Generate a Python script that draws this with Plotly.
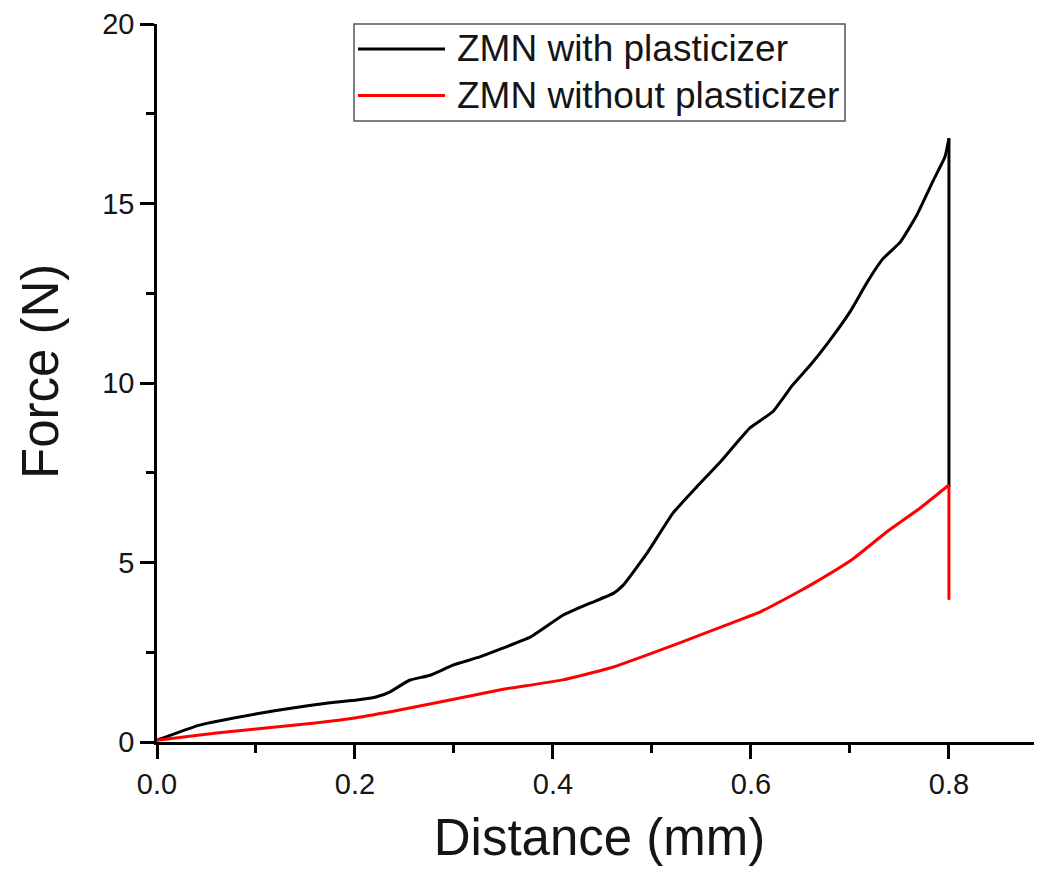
import plotly.graph_objects as go

# Data
dist_with = [0.0, 0.043, 0.104, 0.137, 0.171, 0.202, 0.222, 0.235, 0.255, 0.276, 0.299,
             0.326, 0.346, 0.377, 0.41, 0.437, 0.461, 0.471, 0.495, 0.521, 0.545, 0.569,
             0.599, 0.622, 0.642, 0.660, 0.677, 0.700, 0.717, 0.733, 0.751, 0.768, 0.784,
             0.796, 0.800, 0.800]
force_with = [0.05, 0.47, 0.80, 0.95, 1.08, 1.17, 1.26, 1.39, 1.72, 1.86, 2.14,
              2.37, 2.58, 2.92, 3.53, 3.86, 4.14, 4.37, 5.26, 6.37, 7.10, 7.80,
              8.75, 9.20, 9.94, 10.50, 11.09, 11.98, 12.79, 13.45, 13.93, 14.70, 15.63,
              16.30, 16.82, 7.10]

dist_without = [0.0, 0.06, 0.16, 0.20, 0.245, 0.296, 0.346, 0.41, 0.461, 0.528, 0.596,
                0.609, 0.649, 0.660, 0.703, 0.737, 0.771, 0.800, 0.800]
force_without = [0.05, 0.25, 0.53, 0.67, 0.89, 1.17, 1.45, 1.73, 2.09, 2.76, 3.48,
                 3.62, 4.20, 4.37, 5.10, 5.85, 6.52, 7.16, 3.96]

names = ["ZMN with plasticizer", "ZMN without plasticizer"]
colors = ["#000000", "#ff0000"]
x_title = "Distance (mm)"
y_title = "Force (N)"

FONT = "Arial, Liberation Sans, sans-serif"
TXT = "#151515"

fig = go.Figure()
series = [(dist_with, force_with), (dist_without, force_without)]
for (xs, ys), name, col in zip(series, names, colors):
    # smooth rising curve
    fig.add_trace(go.Scatter(x=xs[:-1], y=ys[:-1], mode="lines", name=name,
                             line=dict(color=col, width=3, shape="spline", smoothing=0.4),
                             showlegend=False))
    # sudden drop at the end of the test
    fig.add_trace(go.Scatter(x=xs[-2:], y=ys[-2:], mode="lines", name=name,
                             line=dict(color=col, width=3), showlegend=False))

axis_common = dict(
    showgrid=False, zeroline=False, showline=True, linecolor="black", linewidth=2.5,
    ticks="outside", ticklen=14, tickwidth=2.5, tickcolor="black",
    tickfont=dict(family=FONT, size=29, color=TXT),
    mirror=False,
)

# page body has an 8px margin, so the figure is 8px smaller and margins shifted
fig.update_layout(
    width=1034, height=865,
    margin=dict(l=149, r=0, t=16, b=131),
    paper_bgcolor="white", plot_bgcolor="white",
    font=dict(family=FONT, color=TXT),
    xaxis=dict(range=[0, 0.894], tickmode="linear", tick0=0, dtick=0.2, tickformat=".1f",
               minor=dict(ticks="outside", ticklen=8, tickwidth=2.5, tickcolor="black",
                          dtick=0.1, tick0=0, showgrid=False),
               title=dict(text=x_title, font=dict(family=FONT, size=51, color=TXT),
                          standoff=21),
               **axis_common),
    yaxis=dict(range=[0, 20], tickmode="linear", tick0=0, dtick=5,
               minor=dict(ticks="outside", ticklen=8, tickwidth=2.5, tickcolor="black",
                          dtick=2.5, tick0=0, showgrid=False),
               **axis_common),
    showlegend=False,
)

# Y axis title placed slightly above the axis centre, as in the reference
fig.add_annotation(xref="paper", yref="paper", x=-0.1322, y=0.5153, text=y_title,
                   textangle=-90, showarrow=False, xanchor="center", yanchor="middle",
                   font=dict(family=FONT, size=51, color=TXT))

# Legend box drawn in paper coordinates (Origin-style compact legend)
box_x0, box_x1, box_y0, box_y1 = 0.2226, 0.7774, 0.8649, 1.0
fig.add_shape(type="rect", xref="paper", yref="paper", x0=box_x0, x1=box_x1,
              y0=box_y0, y1=box_y1, line=dict(color="#555555", width=1.5),
              fillcolor="white", layer="above")
row_y = [0.9652, 0.9004]
for name, col, ry in zip(names, colors, row_y):
    fig.add_shape(type="line", xref="paper", yref="paper", x0=0.2271, x1=0.3254,
                  y0=ry, y1=ry, line=dict(color=col, width=3), layer="above")
    fig.add_annotation(xref="paper", yref="paper", x=0.3367, y=ry, text=name,
                       showarrow=False, xanchor="left", yanchor="middle",
                       font=dict(family=FONT, size=37, color=TXT))

fig.write_html("out.html")
